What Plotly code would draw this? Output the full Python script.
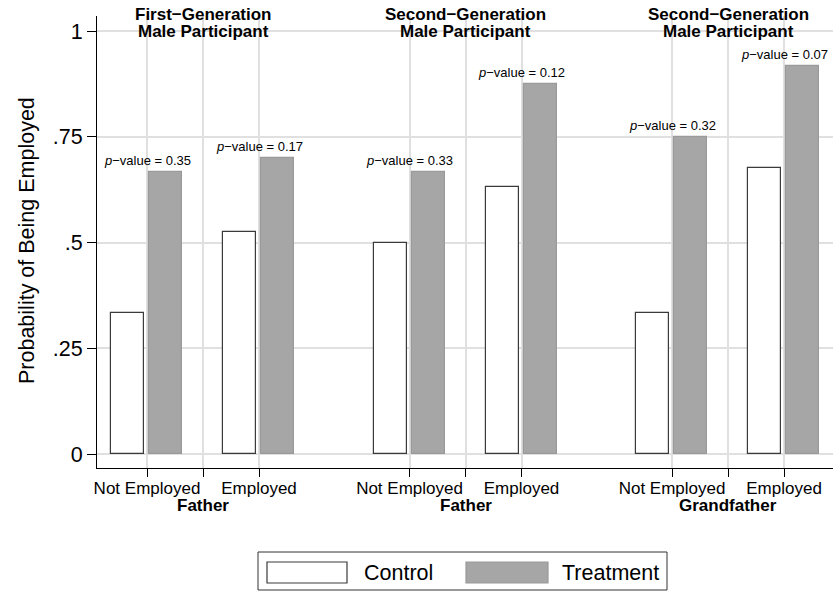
import plotly.graph_objects as go

# ---------------- data ----------------
categories = ["Not Employed", "Employed", "Not Employed", "Employed", "Not Employed", "Employed"]
groups = ["Father", "Father", "Grandfather"]
panel_line1 = ["First−Generation", "Second−Generation", "Second−Generation"]
panel_line2 = ["Male Participant", "Male Participant", "Male Participant"]
control = [0.333, 0.525, 0.500, 0.632, 0.333, 0.676]
treatment = [0.667, 0.700, 0.667, 0.875, 0.750, 0.917]
pvalues = ["0.35", "0.17", "0.33", "0.12", "0.32", "0.07"]
y_ticks = [0, 0.25, 0.5, 0.75, 1]
y_ticktext = ["0", ".25", ".5", ".75", "1"]

# ---------------- layout geometry ----------------
W, H = 837, 593
ML, MR, MT, MB = 97, 4, 16, 125
GROUP_SPACING = 2.344      # distance between group centres (category spacing = 1)
BAR_W = 0.295
FONT = "Liberation Sans, Arial, Helvetica, sans-serif"

sep_pos = [g * GROUP_SPACING for g in range(3)]
cat_pos = []
for g in range(3):
    cat_pos += [sep_pos[g] - 0.5, sep_pos[g] + 0.5]

x_range = [-0.9464, 5.625]
y_range = [-0.0331, 1.0355]

PW, PH = W - ML - MR, H - MT - MB


def px(xp):
    return (xp - ML) / PW


def py(yp):
    return (H - MB - yp) / PH


fig = go.Figure()
fig.add_trace(go.Bar(
    x=cat_pos, y=control, name="Control", width=BAR_W, offset=-0.32,
    marker=dict(color="white", line=dict(color="#3a3a3a", width=1.2)),
    showlegend=False, hoverinfo="y"))
fig.add_trace(go.Bar(
    x=cat_pos, y=treatment, name="Treatment", width=BAR_W, offset=0.02,
    marker=dict(color="#a6a6a6", line=dict(color="#9a9a9a", width=1.2)),
    showlegend=False, hoverinfo="y"))

annotations = []
# p-values
for xp, t, p in zip(cat_pos, treatment, pvalues):
    annotations.append(dict(
        x=xp, y=t, xref="x", yref="y", text=f"<i>p</i>−value = {p}",
        showarrow=False, yanchor="bottom", xanchor="center", yshift=2,
        font=dict(size=13, color="black", family=FONT)))
# panel titles
for s, l1, l2 in zip(sep_pos, panel_line1, panel_line2):
    annotations.append(dict(x=s, y=py(15), xref="x", yref="paper", text=f"<b>{l1}</b>",
                            showarrow=False, yanchor="middle", xanchor="center",
                            font=dict(size=17, color="black", family=FONT)))
    annotations.append(dict(x=s, y=py(31.5), xref="x", yref="paper", text=f"<b>{l2}</b>",
                            showarrow=False, yanchor="middle", xanchor="center",
                            font=dict(size=17, color="black", family=FONT)))
# group labels under axis
for s, g in zip(sep_pos, groups):
    annotations.append(dict(x=s, y=py(505), xref="x", yref="paper", text=f"<b>{g}</b>",
                            showarrow=False, yanchor="middle", xanchor="center",
                            font=dict(size=17, color="black", family=FONT)))
# y-axis title
annotations.append(dict(x=px(27), y=py(241), xref="paper", yref="paper",
                        text="Probability of Being Employed", textangle=-90,
                        showarrow=False, xanchor="center", yanchor="middle",
                        font=dict(size=21.5, color="black", family=FONT)))
# legend (manual)
annotations.append(dict(x=px(362), y=py(572.5), xref="paper", yref="paper", text="Control",
                        showarrow=False, xanchor="left", yanchor="middle",
                        font=dict(size=21.5, color="black", family=FONT)))
annotations.append(dict(x=px(560), y=py(572.5), xref="paper", yref="paper", text="Treatment",
                        showarrow=False, xanchor="left", yanchor="middle",
                        font=dict(size=21.5, color="black", family=FONT)))

shapes = [
    dict(type="rect", xref="paper", yref="paper", x0=px(258), x1=px(667), y0=py(590), y1=py(552),
         line=dict(color="#333333", width=1), fillcolor="white", layer="above"),
    dict(type="rect", xref="paper", yref="paper", x0=px(267), x1=px(347), y0=py(583), y1=py(562),
         line=dict(color="#3a3a3a", width=1.2), fillcolor="white", layer="above"),
    dict(type="rect", xref="paper", yref="paper", x0=px(466), x1=px(548), y0=py(583), y1=py(562),
         line=dict(color="#9a9a9a", width=1.2), fillcolor="#a6a6a6", layer="above"),
]

tickvals, ticktext = [], []
for g in range(3):
    tickvals += [cat_pos[2 * g], sep_pos[g], cat_pos[2 * g + 1]]
    ticktext += [categories[2 * g], "", categories[2 * g + 1]]

fig.update_layout(
    width=W, height=H,
    margin=dict(l=ML, r=MR, t=MT, b=MB, pad=0),
    paper_bgcolor="white", plot_bgcolor="white",
    font=dict(family=FONT, color="black"),
    barmode="overlay", bargap=0,
    annotations=annotations, shapes=shapes,
    xaxis=dict(range=x_range, tickmode="array", tickvals=tickvals, ticktext=ticktext,
               showgrid=True, gridcolor="#e0e0e0", gridwidth=1.5, zeroline=False,
               showline=True, linecolor="black", linewidth=1.2,
               ticks="outside", ticklen=8, tickcolor="black", tickwidth=1.2,
               ticklabelstandoff=-4,
               tickfont=dict(size=17, color="black", family=FONT), fixedrange=True),
    yaxis=dict(range=y_range, tickmode="array", tickvals=y_ticks, ticktext=y_ticktext,
               showgrid=True, gridcolor="#e0e0e0", gridwidth=1.5, zeroline=False,
               showline=True, linecolor="black", linewidth=1.2,
               ticks="outside", ticklen=9, tickcolor="black", tickwidth=1.2,
               tickfont=dict(size=21.5, color="black", family=FONT), fixedrange=True),
)

fig.write_html("out.html", config={"displayModeBar": False},
               post_script="document.body.style.margin='0';document.body.style.overflow='hidden';")
